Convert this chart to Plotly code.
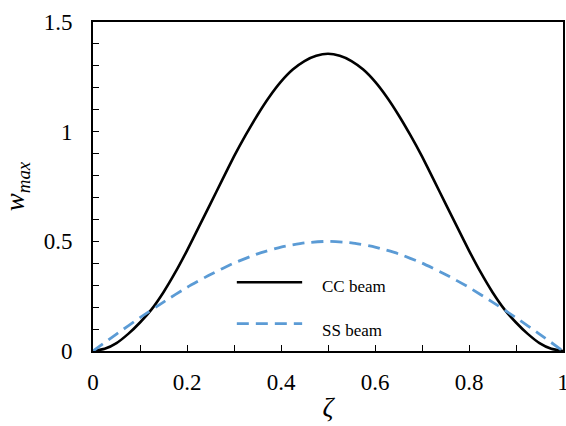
import plotly.graph_objects as go

# ---- data ----
zeta_cc = [i * 0.025 for i in range(41)]
w_cc = [0.000, 0.010, 0.036, 0.078, 0.130, 0.191, 0.268, 0.358, 0.458, 0.565,
        0.672, 0.780, 0.887, 0.985, 1.076, 1.158, 1.228, 1.283, 1.322, 1.346,
        1.355,
        1.346, 1.322, 1.283, 1.228, 1.158, 1.076, 0.985, 0.887, 0.780, 0.672,
        0.565, 0.458, 0.358, 0.268, 0.191, 0.130, 0.078, 0.036, 0.010, 0.000]

zeta_ss = [i * 0.05 for i in range(21)]
w_ss = [0.000, 0.077, 0.152, 0.223, 0.290, 0.349, 0.401, 0.443, 0.474, 0.493,
        0.500,
        0.493, 0.474, 0.443, 0.401, 0.349, 0.290, 0.223, 0.152, 0.077, 0.000]

series_names = ["CC beam", "SS beam"]
x_ticks = [0, 0.2, 0.4, 0.6, 0.8, 1]
x_tick_text = ["0", "0.2", "0.4", "0.6", "0.8", "1"]
y_ticks = [0, 0.5, 1, 1.5]
y_tick_text = ["0", "0.5", "1", "1.5"]

BLUE = "#5B9BD5"
FONT = "Liberation Serif, Times New Roman, serif"

fig = go.Figure()
fig.add_trace(go.Scatter(x=zeta_cc, y=w_cc, mode="lines", name=series_names[0],
                         line=dict(color="black", width=2.6, shape="spline", smoothing=0.5),
                         showlegend=False))
fig.add_trace(go.Scatter(x=zeta_ss, y=w_ss, mode="lines", name=series_names[1],
                         line=dict(color=BLUE, width=2.8, dash="12px,7px", shape="spline", smoothing=0.5),
                         showlegend=False))

# manual legend (long sample lines as in the reference)
fig.add_shape(type="line", xref="paper", yref="paper", x0=0.306, x1=0.445, y0=0.209, y1=0.209,
              line=dict(color="black", width=2.6))
fig.add_shape(type="line", xref="paper", yref="paper", x0=0.306, x1=0.445, y0=0.083, y1=0.083,
              line=dict(color=BLUE, width=2.8, dash="12px,7px"))
fig.add_annotation(xref="paper", yref="paper", x=0.482, y=0.195, text=series_names[0],
                   showarrow=False, xanchor="left", yanchor="middle",
                   font=dict(family=FONT, size=17, color="black"))
fig.add_annotation(xref="paper", yref="paper", x=0.482, y=0.063, text=series_names[1],
                   showarrow=False, xanchor="left", yanchor="middle",
                   font=dict(family=FONT, size=17, color="black"))

axis_common = dict(showline=True, linecolor="black", linewidth=2, mirror=True,
                   showgrid=False, zeroline=False, ticks="inside", tickcolor="black",
                   tickwidth=1.3, ticklen=6, automargin=False, ticklabeloverflow="allow",
                   tickfont=dict(family=FONT, size=23, color="black"))

fig.update_xaxes(range=[0, 1], tickvals=x_ticks, ticktext=x_tick_text,
                 minor=dict(dtick=0.1, tick0=0, ticks="inside", ticklen=6, tickwidth=1.3, tickcolor="black"),
                 ticklabelstandoff=9,
                 title=dict(text="<i>ζ</i>", font=dict(family=FONT, size=27, color="black"), standoff=4),
                 **axis_common)
fig.update_yaxes(range=[0, 1.5], tickvals=y_ticks, ticktext=y_tick_text,
                 minor=dict(dtick=0.1, tick0=0, ticks="inside", ticklen=6, tickwidth=1.3, tickcolor="black"),
                 ticklabelstandoff=14,
                 title=dict(text="<i>w</i><sub><i>max</i></sub>", font=dict(family=FONT, size=27, color="black"), standoff=12),
                 **axis_common)

fig.update_layout(width=566, height=426, margin=dict(l=93, r=3, t=22, b=75, autoexpand=False),
                  plot_bgcolor="white", paper_bgcolor="white", showlegend=False)

fig.write_html("out.html", config={"displayModeBar": False},
               post_script="document.body.style.margin='0';")
